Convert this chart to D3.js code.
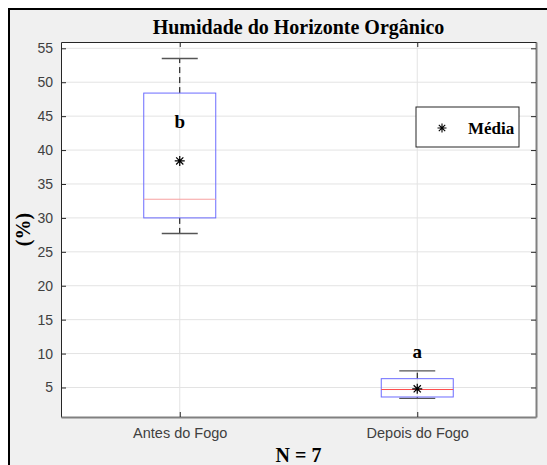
<!DOCTYPE html>
<html>
<head>
<meta charset="utf-8">
<script src="https://d3js.org/d3.v7.min.js"></script>
<style>
body { margin: 0; background: #fff; }
.tick text { font-family: "Liberation Sans", Arial, sans-serif; font-size: 14px; fill: #404040; }
.serif { font-family: "Liberation Serif", "Times New Roman", serif; font-weight: bold; fill: #000; }
</style>
</head>
<body>
<svg id="chart" width="547" height="465"></svg>
<script>
// data
var groups = ["Antes do Fogo", "Depois do Fogo"];
var lowWhisker = [27.7, 3.4];
var q1 = [30.0, 3.6];
var median = [32.75, 4.7];
var q3 = [48.4, 6.3];
var highWhisker = [53.5, 7.45];
var mean = [38.4, 4.8];
var letters = ["b", "a"];
var letterY = [44.2, 10.3];
var yTicks = [5, 10, 15, 20, 25, 30, 35, 40, 45, 50, 55];

var svg = d3.select("#chart");

// figure frame
svg.append("rect")
  .attr("x", 9).attr("y", 9)
  .attr("width", 560).attr("height", 480)
  .attr("fill", "#f0f0f0")
  .attr("stroke", "#000").attr("stroke-width", 2);

var pLeft = 61, pTop = 42, pRight = 536, pBottom = 417;

var x = d3.scaleLinear().domain([0.5, 2.5]).range([pLeft, pRight]);
var y = d3.scaleLinear().domain([0.65, 55.93]).range([pBottom, pTop]);

// plot area
svg.append("rect")
  .attr("x", pLeft).attr("y", pTop)
  .attr("width", pRight - pLeft).attr("height", pBottom - pTop)
  .attr("fill", "#fff");

// grid
svg.append("g").selectAll("line").data(yTicks).enter().append("line")
  .attr("x1", pLeft).attr("x2", pRight)
  .attr("y1", function(d) { return y(d); })
  .attr("y2", function(d) { return y(d); })
  .attr("stroke", "#e3e3e3");
svg.append("g").selectAll("line").data([1, 2]).enter().append("line")
  .attr("y1", pTop).attr("y2", pBottom)
  .attr("x1", function(d) { return x(d); })
  .attr("x2", function(d) { return x(d); })
  .attr("stroke", "#e3e3e3");

// axes
var yAxis = svg.append("g")
  .attr("transform", "translate(" + pLeft + ",0)")
  .call(d3.axisLeft(y).tickValues(yTicks).tickSizeInner(-5).tickSizeOuter(0).tickPadding(8));
var yAxisR = svg.append("g")
  .attr("transform", "translate(" + pRight + ",0)")
  .call(d3.axisRight(y).tickValues(yTicks).tickSizeInner(-5).tickSizeOuter(0).tickFormat(""));
var xAxis = svg.append("g")
  .attr("transform", "translate(0," + pBottom + ")")
  .call(d3.axisBottom(x).tickValues([1, 2]).tickFormat(function(d) { return groups[d - 1]; })
    .tickSizeInner(-5).tickSizeOuter(0).tickPadding(11));
var xAxisT = svg.append("g")
  .attr("transform", "translate(0," + pTop + ")")
  .call(d3.axisTop(x).tickValues([1, 2]).tickFormat("").tickSizeInner(-5).tickSizeOuter(0));

[yAxis, xAxisT].forEach(function(a) {
  a.select(".domain").attr("stroke", "#262626");
  a.selectAll(".tick line").attr("stroke", "#262626");
});
[yAxisR, xAxis].forEach(function(a) {
  a.select(".domain").attr("stroke", "#808080").attr("stroke-width", 2);
  a.selectAll(".tick line").attr("stroke", "#262626");
});
xAxis.selectAll(".tick text").style("font-size", "14.5px");

// boxes
var boxW = 72, capW = 36;
var idx = d3.range(groups.length);
var g = svg.append("g");

idx.forEach(function(i) {
  var cx = x(i + 1);
  // whiskers
  g.append("line")
    .attr("x1", cx).attr("x2", cx)
    .attr("y1", y(q3[i])).attr("y2", y(highWhisker[i]))
    .attr("stroke", "#000").attr("stroke-dasharray", "6,4");
  g.append("line")
    .attr("x1", cx).attr("x2", cx)
    .attr("y1", y(q1[i])).attr("y2", y(lowWhisker[i]))
    .attr("stroke", "#000").attr("stroke-dasharray", "6,4");
  // caps
  [lowWhisker[i], highWhisker[i]].forEach(function(v) {
    g.append("line")
      .attr("x1", cx - capW / 2).attr("x2", cx + capW / 2)
      .attr("y1", y(v)).attr("y2", y(v))
      .attr("stroke", "#555").attr("stroke-width", 1.3);
  });
  // box
  g.append("rect")
    .attr("x", cx - boxW / 2).attr("y", y(q3[i]))
    .attr("width", boxW).attr("height", y(q1[i]) - y(q3[i]))
    .attr("fill", "none").attr("stroke", "#6b6bff");
  // median
  g.append("line")
    .attr("x1", cx - boxW / 2).attr("x2", cx + boxW / 2)
    .attr("y1", y(median[i])).attr("y2", y(median[i]))
    .attr("stroke", i === 0 ? "#f7a0a0" : "#ff4d4d");
  // mean marker
  g.append("path")
    .attr("transform", "translate(" + cx + "," + y(mean[i]) + ")")
    .attr("d", "M-5,0H5M0,-5V5M-3.6,-3.6L3.6,3.6M-3.6,3.6L3.6,-3.6")
    .attr("stroke", "#000").attr("stroke-width", 1.2);
  // significance letter
  g.append("text")
    .attr("class", "serif")
    .attr("x", cx).attr("y", y(letterY[i]))
    .attr("text-anchor", "middle").attr("dy", "0.35em")
    .attr("font-size", 19)
    .text(letters[i]);
});

// legend
var lg = svg.append("g").attr("transform", "translate(416,107)");
lg.append("rect").attr("width", 103).attr("height", 40)
  .attr("fill", "#fff").attr("stroke", "#262626");
lg.append("path")
  .attr("transform", "translate(26,21)")
  .attr("d", "M-4.5,0H4.5M0,-4.5V4.5M-3.2,-3.2L3.2,3.2M-3.2,3.2L3.2,-3.2")
  .attr("stroke", "#000").attr("stroke-width", 1.1);
lg.append("text").attr("class", "serif")
  .attr("x", 52).attr("y", 21).attr("dy", "0.35em")
  .attr("font-size", 17).text("Média");

// title and labels
svg.append("text").attr("class", "serif")
  .attr("x", (pLeft + pRight) / 2).attr("y", 33.5)
  .attr("text-anchor", "middle").attr("font-size", 20)
  .text("Humidade do Horizonte Orgânico");

svg.append("text").attr("class", "serif")
  .attr("transform", "translate(30," + ((pTop + pBottom) / 2) + ") rotate(-90)")
  .attr("text-anchor", "middle").attr("font-size", 20)
  .text("(%)");

svg.append("text").attr("class", "serif")
  .attr("x", (pLeft + pRight) / 2).attr("y", 461.5)
  .attr("text-anchor", "middle").attr("font-size", 20)
  .text("N = 7");
</script>
</body>
</html>
